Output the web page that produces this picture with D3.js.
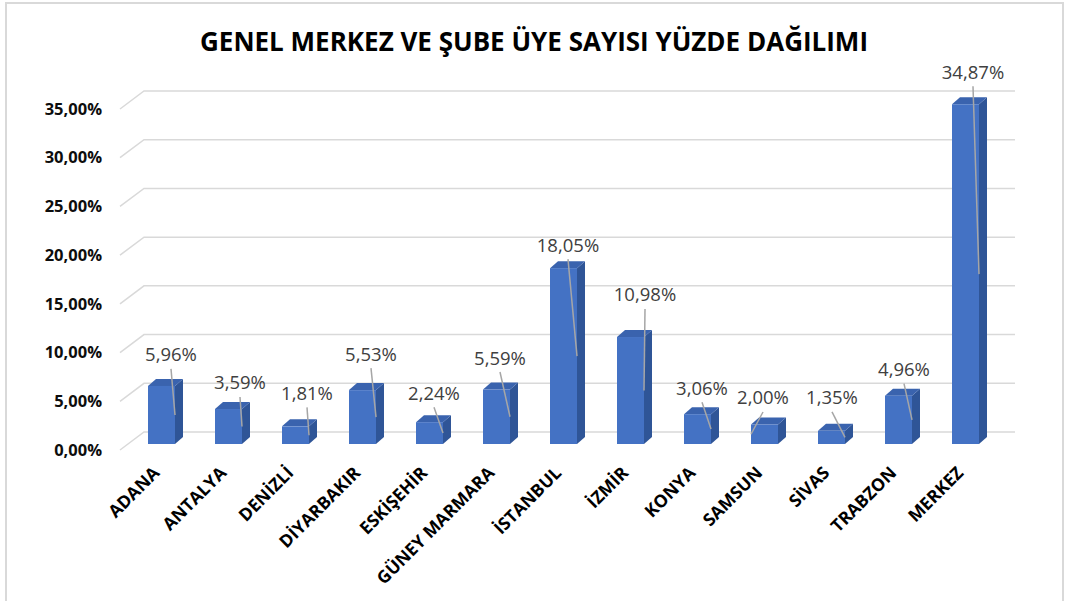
<!DOCTYPE html>
<html><head><meta charset="utf-8">
<script src="https://cdn.jsdelivr.net/npm/d3@7"></script>
<style>html,body{margin:0;padding:0;background:#fff;} svg{display:block;}</style>
</head><body><svg id="c" width="1066" height="601"></svg>
<script>
const title = "GENEL MERKEZ VE ŞUBE ÜYE SAYISI YÜZDE DAĞILIMI";
const categories = ["ADANA","ANTALYA","DENİZLİ","DİYARBAKIR","ESKİŞEHİR","GÜNEY MARMARA","İSTANBUL","İZMİR","KONYA","SAMSUN","SİVAS","TRABZON","MERKEZ"];
const values = [5.96,3.59,1.81,5.53,2.24,5.59,18.05,10.98,3.06,2.00,1.35,4.96,34.87];
const yTicks = [0,5,10,15,20,25,30,35];
// layout only: manual data-label nudges [dx from bar centre, dy from bar top, leader to right(1)/left(0) edge]
const labelNudge = [[9.5,-31,1],[11.5,-26,1],[11.5,-33,1],[8.5,-36,1],[4.5,-29,1],[3.5,-31.5,1],[4.5,-23,1],[14.5,-42,1],[4.5,-26,1],[-1.5,-26.5,0],[0.5,-33,1],[5.5,-26,1],[7.5,-32,1]];

const svg = d3.select("#c");
const FONT = "'Open Sans', 'DejaVu Sans', sans-serif";
const loc = d3.formatLocale({decimal: ",", thousands: ".", grouping: [3], currency: ["", ""]});
const f2 = loc.format(".2f");
const pct = v => f2(v) + "%";

// border
svg.append("rect").attr("x", 6).attr("y", 3).attr("width", 1057).attr("height", 640)
  .attr("fill", "#fff").attr("stroke", "#d9d9d9").attr("stroke-width", 2);

// scales
const yBack = d3.scaleLinear().domain([0, 35]).range([432, 91]);
const wall = {x0: 144, x1: 1015, dx: 24, dy: 18};
const yFront = d3.scaleLinear().domain([0, 35]).range([432 + wall.dy, 91 + wall.dy]);
const x = d3.scaleBand().domain(categories).range([128, 999]).paddingInner(0.597).paddingOuter(0.2985);
const barOff = 12, bdx = 8, bdy = 7;

// gridlines (back wall + side wall diagonal)
svg.append("g").selectAll("path").data(yTicks).join("path")
  .attr("d", t => `M${wall.x0 - wall.dx},${yBack(t) + wall.dy}L${wall.x0},${yBack(t)}L${wall.x1},${yBack(t)}`)
  .attr("fill", "none").attr("stroke", "#d9d9d9").attr("stroke-width", 1.5);

// y axis
const ya = svg.append("g").attr("transform", `translate(${wall.x0 - wall.dx},0)`)
  .call(d3.axisLeft(yFront).tickValues(yTicks).tickSize(0).tickPadding(18).tickFormat(pct));
ya.select(".domain").remove();
ya.selectAll("text").attr("font-family", FONT).attr("font-size", 16.5).attr("font-weight", "bold").attr("fill", "#0d0d0d");

// bars
const bw = x.bandwidth();
const g = svg.append("g");
categories.forEach((c, i) => {
  const x0 = x(c), yt = yBack(values[i]) + barOff, yb = yBack(0) + barOff;
  g.append("path").attr("d", `M${x0 + bw},${yt}L${x0 + bw + bdx},${yt - bdy}L${x0 + bw + bdx},${yb - bdy}L${x0 + bw},${yb}Z`).attr("fill", "#2F5597");
  g.append("path").attr("d", `M${x0},${yt}L${x0 + bdx},${yt - bdy}L${x0 + bw + bdx},${yt - bdy}L${x0 + bw},${yt}Z`).attr("fill", "#3A63AE");
  g.append("rect").attr("x", x0).attr("y", yt).attr("width", bw).attr("height", yb - yt).attr("fill", "#4472C4");
});

// data labels + leader lines
const lg = svg.append("g");
categories.forEach((c, i) => {
  const x0 = x(c), yt = yBack(values[i]) + barOff, yb = yBack(0) + barOff;
  const cx = x0 + bw / 2, n = labelNudge[i];
  const lx = cx + n[0], ly = yt + n[1];
  lg.append("line").attr("x1", lx).attr("y1", ly + 14)
    .attr("x2", n[2] ? x0 + bw : x0).attr("y2", (yt + yb) / 2)
    .attr("stroke", "#a6a6a6").attr("stroke-width", 1.5);
  lg.append("text").attr("x", lx).attr("y", ly).attr("dy", "0.35em")
    .attr("text-anchor", "middle").attr("font-family", FONT).attr("font-size", 18.5)
    .attr("fill", "#404040").text(pct(values[i]));
});

// category labels
svg.append("g").selectAll("text").data(categories).join("text")
  .attr("transform", c => `translate(${x(c) + bw / 2 - 1},474) rotate(-45)`)
  .attr("text-anchor", "end").attr("font-family", FONT).attr("font-size", 17.5)
  .attr("font-weight", "bold").attr("fill", "#000").text(c => c);

// title
svg.append("text").attr("x", 534).attr("y", 51).attr("text-anchor", "middle")
  .attr("font-family", FONT).attr("font-size", 27).attr("font-weight", "bold")
  .attr("textLength", 668).attr("lengthAdjust", "spacingAndGlyphs")
  .attr("fill", "#000").text(title);
</script></body></html>
